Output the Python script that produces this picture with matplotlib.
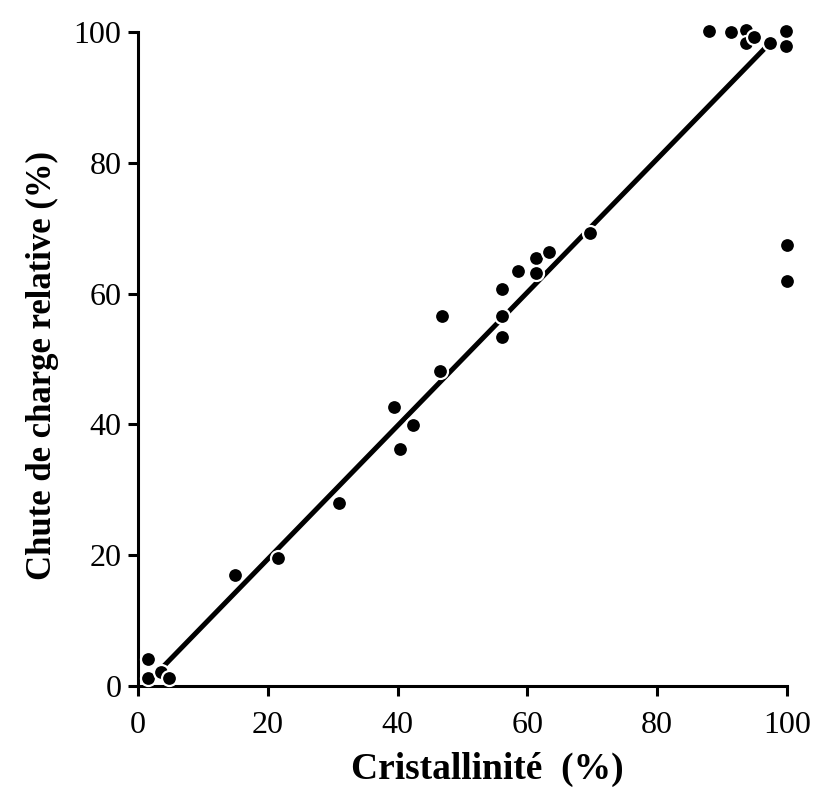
import matplotlib
matplotlib.use("Agg")
import matplotlib.pyplot as plt
import numpy as np

plt.rcParams['font.family'] = ['Liberation Serif', 'DejaVu Serif']

cristallinite = [1.6, 1.6, 3.6, 4.8, 14.9, 21.6, 31.0, 39.4, 40.4, 42.4,
                 46.6, 46.8, 56.1, 56.1, 56.1, 58.5, 61.3, 61.3, 63.4, 69.6,
                 88.0, 91.3, 93.7, 93.7, 94.9, 97.4, 99.8, 99.8, 100.0, 100.0]
chute = [4.1, 1.3, 2.2, 1.2, 17.0, 19.6, 28.0, 42.7, 36.2, 39.9,
         48.2, 56.6, 60.7, 56.6, 53.3, 63.5, 65.5, 63.1, 66.4, 69.3,
         100.2, 100.0, 100.3, 98.3, 99.2, 98.3, 100.2, 97.8, 67.4, 61.9]

fit_x = [2.0, 97.0]
slope, intercept = 1.02, -1.0

fig = plt.figure(figsize=(8.13, 8.09), dpi=100)
ax = fig.add_axes([0.1697, 0.152, 0.7983, 0.8084])

fx = np.array(fit_x)
ax.plot(fx, slope * fx + intercept, color='black', lw=3.6, solid_capstyle='butt', zorder=2)
ax.plot(cristallinite, chute, 'o', color='black', markersize=10.8,
        markeredgecolor='white', markeredgewidth=1.6, clip_on=False, zorder=3)

ax.set_xlim(0, 100)
ax.set_ylim(0, 100)
ax.set_xticks([0, 20, 40, 60, 80, 100])
ax.set_yticks([0, 20, 40, 60, 80, 100])
for s in ['top', 'right']:
    ax.spines[s].set_visible(False)
for s in ['left', 'bottom']:
    ax.spines[s].set_linewidth(2.2)
ax.tick_params(direction='out', length=7, width=2.2, labelsize=23)
ax.tick_params(axis='x', pad=11)
ax.tick_params(axis='y', pad=5)
ax.set_xlabel('Cristallinité  (%)', fontsize=27, fontweight='bold')
ax.set_ylabel('Chute de charge relative (%)', fontsize=25, fontweight='bold')
ax.xaxis.set_label_coords(0.538, -0.101)
ax.yaxis.set_label_coords(-0.121, 0.49)

fig.savefig('out.png', dpi=100)
